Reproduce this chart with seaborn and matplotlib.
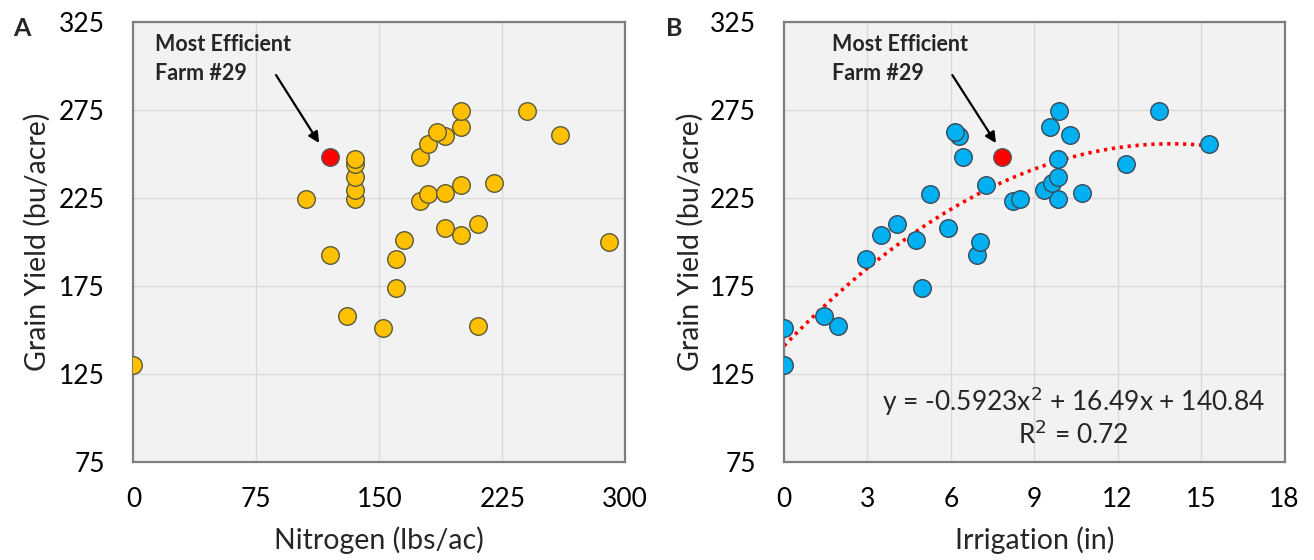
import numpy as np
import pandas as pd
import matplotlib
matplotlib.use("Agg")
import matplotlib.pyplot as plt
import seaborn as sns

# Farm survey: nitrogen applied, irrigation applied and grain yield per farm
farm_no = list(range(1, 33))
nitrogen = [0, 152, 210, 130, 160, 160, 120, 290, 165, 200, 190, 210, 175, 135, 105, 180,
            190, 135, 200, 220, 135, 135, 135, 175, 180, 190, 260, 185, 120, 200, 200, 240]
irrigation = [0.0, 0.0, 1.95, 1.45, 4.95, 2.95, 6.95, 7.05, 4.75, 3.5, 5.9, 4.05, 8.25, 8.5, 9.85, 5.25,
              10.7, 9.35, 7.25, 9.65, 9.85, 12.3, 9.85, 6.45, 15.3, 6.3, 10.3, 6.15, 7.85, 9.55, 9.9, 13.5]
grain_yield = [130, 151, 152, 158, 173.5, 190, 192.5, 200, 201, 204, 208, 210, 223, 224, 224.5, 227,
               227.5, 229.5, 232, 233.5, 237, 244, 247, 248, 255.5, 260, 260.5, 262.5, 248, 265, 274, 274]
efficient_farm = 29

# Quadratic trend of yield on irrigation
trend_coef = [-0.5923, 16.49, 140.84]
trend_r2 = 0.72

yield_ticks = [75, 125, 175, 225, 275, 325]
nitrogen_ticks = [0, 75, 150, 225, 300]
irrigation_ticks = [0, 3, 6, 9, 12, 15, 18]

df = pd.DataFrame({"farm": farm_no, "nitrogen": nitrogen,
                   "irrigation": irrigation, "yield": grain_yield})
df["efficient"] = df["farm"] == efficient_farm

x_trend = np.linspace(0, max(irrigation), 200)
trend_df = pd.DataFrame({"irrigation": x_trend,
                         "yield": np.polyval(trend_coef, x_trend)})

sns.set_style("white")
plt.rcParams["font.family"] = ["Lato", "DejaVu Sans"]

fig = plt.figure(figsize=(13.14, 5.6), dpi=100)
W, H = 1314, 560
axA = fig.add_axes([133.4 / W, 1 - 461.7 / H, 491.8 / W, 440 / H])
axB = fig.add_axes([784.1 / W, 1 - 461.7 / H, 500.4 / W, 440 / H])

spine_col = "#7f7f7f"
grid_col = "#d9d9d9"


def style_axes(ax, xticks, xlabel, ylabel_x):
    ax.set_facecolor("#f2f2f2")
    ax.set_xlim(xticks[0], xticks[-1])
    ax.set_ylim(yield_ticks[0], yield_ticks[-1])
    ax.set_xticks(xticks)
    ax.set_yticks(yield_ticks)
    ax.grid(True, color=grid_col, lw=1)
    ax.set_axisbelow(True)
    for s in ax.spines.values():
        s.set_visible(True)
        s.set_color(spine_col)
        s.set_linewidth(1.6)
    ax.tick_params(axis="both", direction="out", length=6.5, width=1.5,
                   color=spine_col, labelsize=19, labelcolor="black")
    ax.tick_params(axis="x", pad=12)
    ax.tick_params(axis="y", pad=14)
    ax.set_xlabel(xlabel, fontsize=20.5)
    ax.set_ylabel("Grain Yield (bu/acre)", fontsize=20.5)
    ax.xaxis.set_label_coords(0.5, (461.7 - 540) / 440)
    ax.xaxis.label.set_va("center")
    ax.yaxis.set_label_coords(ylabel_x, 0.5)
    ax.yaxis.label.set_va("center")


# Panel A: yield vs nitrogen
sns.scatterplot(data=df[~df["efficient"]], x="nitrogen", y="yield", ax=axA,
                color="#FFC000", edgecolor="#5a5a3a", linewidth=1, s=160, zorder=3)
sns.scatterplot(data=df[df["efficient"]], x="nitrogen", y="yield", ax=axA,
                color="#FF0000", edgecolor="#5a5a5a", linewidth=1, s=160, zorder=4)
style_axes(axA, nitrogen_ticks, "Nitrogen (lbs/ac)", (37 - 133.4) / 491.8)

# Panel B: yield vs irrigation with quadratic trend
sns.lineplot(data=trend_df, x="irrigation", y="yield", ax=axB, color="#FF0000",
             lw=2.6, linestyle=(0, (0.9, 1.3)), zorder=2)
sns.scatterplot(data=df[~df["efficient"]], x="irrigation", y="yield", ax=axB,
                color="#00B0F0", edgecolor="#3a4a5a", linewidth=1, s=160, zorder=3)
sns.scatterplot(data=df[df["efficient"]], x="irrigation", y="yield", ax=axB,
                color="#FF0000", edgecolor="#5a5a5a", linewidth=1, s=160, zorder=4)
style_axes(axB, irrigation_ticks, "Irrigation (in)", (690 - 784.1) / 500.4)

arrow = dict(arrowstyle="-|>", color="black", lw=1.6, mutation_scale=16,
             shrinkA=0, shrinkB=0)
for ax, txt_x, tail, tip in [(axA, 13.2, (87, 294.7), (113.3, 256.1)),
                             (axB, 1.74, (6.05, 294.7), (7.62, 256.0))]:
    ax.text(txt_x, 311.8, "Most Efficient", fontsize=15.5, fontweight="bold",
            ha="left", va="center")
    ax.text(txt_x, 295.8, "Farm #29", fontsize=15.5, fontweight="bold",
            ha="left", va="center")
    ax.annotate("", xy=tip, xytext=tail, arrowprops=arrow)

a, b, c = trend_coef
axB.text(10.41, 109.1, f"y = {a:.4f}x$^2$ + {b:.2f}x + {c:.2f}", fontsize=19,
         ha="center", va="center")
axB.text(10.41, 90.2, f"R$^2$ = {trend_r2:.2f}", fontsize=19, ha="center", va="center")

fig.text(13 / W, 1 - 28 / H, "A", fontsize=18, fontweight="bold", va="center", ha="left")
fig.text(666 / W, 1 - 28 / H, "B", fontsize=18, fontweight="bold", va="center", ha="left")

fig.savefig("out.png", dpi=100)
